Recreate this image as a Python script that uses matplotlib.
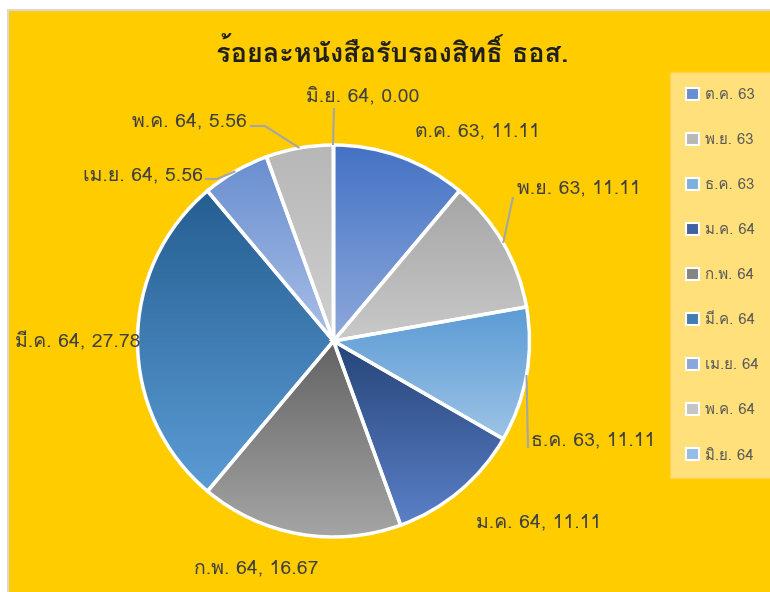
import numpy as np
import matplotlib
matplotlib.use("Agg")
import matplotlib.pyplot as plt
from matplotlib import font_manager as fm
from matplotlib.ft2font import FT2Font
from matplotlib.colors import LinearSegmentedColormap
from matplotlib.patches import Rectangle, Patch

# ---------------- data ----------------
categories = ["ต.ค. 63", "พ.ย. 63", "ธ.ค. 63", "ม.ค. 64", "ก.พ. 64",
              "มี.ค. 64", "เม.ย. 64", "พ.ค. 64", "มิ.ย. 64"]
values = [11.11, 11.11, 11.11, 11.11, 16.67, 27.78, 5.56, 5.56, 0.00]
title = "ร้อยละหนังสือรับรองสิทธิ์ ธอส."

# gradient colours (top, bottom) per slice
top_colors = ["#4472C4", "#A5A5A5", "#5B9BD5", "#264478", "#636363",
              "#255E91", "#698ED0", "#B7B7B7", "#7CAFDD"]
bot_colors = ["#8EA9DB", "#C9C9C9", "#9DC3E6", "#5B80C8", "#A5A5A5",
              "#5B9BD5", "#A9BFE6", "#D0D0D0", "#A9CBEA"]

# ---------------- fonts ----------------
thai_fams = []
checked = set()
for f in fm.fontManager.ttflist:
    if f.name in checked:
        continue
    checked.add(f.name)
    try:
        cm = FT2Font(f.fname).get_charmap()
        if 0x0E2A in cm:
            thai_fams.append(f.name)
    except Exception:
        pass
preferred = [n for n in ["Loma", "Noto Sans Thai", "Sarabun", "IBM Plex Sans Thai"]
             if n in thai_fams]
plt.rcParams['font.family'] = preferred + thai_fams + ['DejaVu Sans']

W, H = 770, 592
fig = plt.figure(figsize=(W / 100, H / 100), dpi=100)
fig.patch.set_facecolor("white")
ax = fig.add_axes([0, 0, 1, 1])
ax.set_xlim(0, W)
ax.set_ylim(0, H)
ax.axis("off")

def Y(y):
    return H - y

# chart area background with grey border
ax.add_patch(Rectangle((7, 0), W - 7, Y(9), facecolor="#D9D9D9", edgecolor="none", zorder=0))
ax.add_patch(Rectangle((9, 0), W - 9, Y(11), facecolor="#FFCC00", edgecolor="none", zorder=0.1))

cx, cy, R = 333.5, Y(341), 196
wedges, _ = ax.pie(values, startangle=90, counterclock=False, center=(cx, cy),
                   radius=R, frame=True,
                   wedgeprops=dict(edgecolor="white", linewidth=2.5))
grad = np.linspace(0, 1, 256).reshape(-1, 1)
for w, c0, c1 in zip(wedges, top_colors, bot_colors):
    w.set_facecolor("none")
    w.set_zorder(2)
    ext = w.get_path().get_extents()
    cmap = LinearSegmentedColormap.from_list("g", [c0, c1])
    im = ax.imshow(grad, cmap=cmap, extent=(ext.x0, ext.x1, ext.y0, ext.y1),
                   origin="upper", aspect="auto", interpolation="bilinear", zorder=1)
    im.set_clip_path(w)
ax.set_xlim(0, W)
ax.set_ylim(0, H)
ax.set_aspect("auto")
ax.axis("off")

# labels (layout: image-pixel anchor x, y, ha)
label_layout = [(415, 131, "left"), (517, 188, "left"), (531, 440, "left"),
                (476, 522, "left"), (194, 568, "left"), (15, 342, "left"),
                (203, 175, "right"), (247, 121, "right"), (363, 96, "center")]
lab_color = "#404040"
for cat, v, (lx, ly, ha) in zip(categories, values, label_layout):
    ax.text(lx, Y(ly), f"{cat}, {v:.2f}", ha=ha, va="center", fontsize=14,
            color=lab_color, zorder=5)

# leader lines: from rim at slice mid-angle to elbow points near the label
cum = np.cumsum([0] + values)
total = sum(values)
mid_ang = [(cum[i] + values[i] / 2) / total * 360 for i in range(len(values))]
leaders = {1: [(513, 197)], 2: [(528, 448)], 6: [(217, 179), (205, 179)],
           7: [(265, 126), (250, 126)], 8: [(cx, 108)]}
for i, pts in leaders.items():
    a = np.deg2rad(mid_ang[i])
    rx, ry = cx + R * np.sin(a), cy + R * np.cos(a)
    xs = [rx] + [p[0] for p in pts]
    ys = [ry] + [Y(p[1]) for p in pts]
    ax.plot(xs, ys, color="#A6A6A6", lw=1.5, zorder=4, solid_capstyle="butt")

# title
ax.text(392, Y(53), title, ha="center", va="center", fontsize=19.5,
        fontweight="bold", color="#1F1F1F", zorder=5)

# legend
handles = [Patch(facecolor=LinearSegmentedColormap.from_list("g", [c0, c1])(0.5),
                 edgecolor="white", linewidth=1.5)
           for c0, c1 in zip(top_colors, bot_colors)]
leg = ax.legend(handles, categories, loc="upper left",
                bbox_to_anchor=(670 / W, 1 - 72 / H), bbox_transform=fig.transFigure,
                fontsize=10.8, labelspacing=2.06, handlelength=0.85, handleheight=0.85,
                handletextpad=0.45, borderpad=1.05, borderaxespad=0,
                frameon=True, fancybox=False, labelcolor="#595959")
fr = leg.get_frame()
fr.set_facecolor("#FFE07A")
fr.set_edgecolor("#FFD24D")
fr.set_alpha(1)
leg.set_zorder(6)

fig.savefig("out.png", dpi=100, facecolor=fig.get_facecolor())
